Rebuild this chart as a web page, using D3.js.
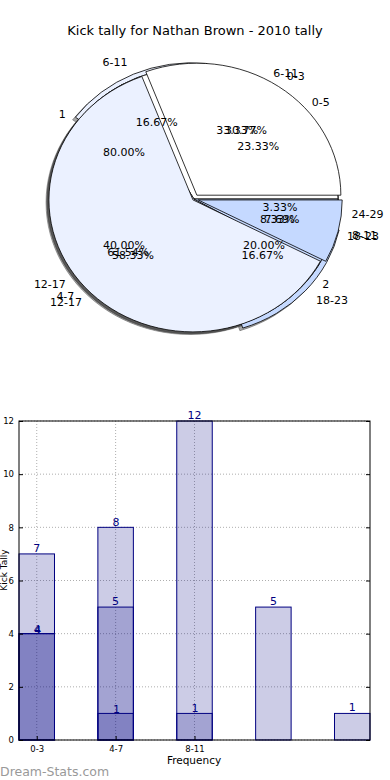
<!DOCTYPE html>
<html>
<head>
<meta charset="utf-8">
<script src="https://cdn.jsdelivr.net/npm/d3@7"></script>
<style>
body { margin: 0; background: #fff; }
text { font-family: "DejaVu Sans", sans-serif; }
</style>
</head>
<body>
<svg id="chart" width="390" height="780"></svg>
<script>
// four tallies, each drawn as its own pie over the previous one
var sixLabels = ["0-5", "6-11", "12-17", "18-23", "24-29"];
var sixValues = [7, 5, 12, 5, 1];
var kickLabels = ["1", "2"];
var kickValues = [4, 1];
var lateLabels = ["6-11", "12-17", "18-23"];
var lateValues = [4, 7, 1];
var fourLabels = ["0-3", "4-7", "8-11"];
var fourValues = [4, 8, 1];

// bar chart: three series over the same slots
var barTickLabels = ["0-3", "4-7", "8-11"];
var barSeriesA = [7, 5, 12, 5, 1];
var barSeriesB = [4, 8, 1];
var barSeriesC = [4, 1];
var yTicks = [0, 2, 4, 6, 8, 10, 12];

var pieColors = ["#ffffff", "#ebf1ff", "#c5d9ff", "#c5d9ff", "#ffffff"];

var Pies = [
	{labels: sixLabels, values: sixValues, explode: [0, 0.035, 0, 0.04, 0]},
	{labels: kickLabels, values: kickValues, explode: [0, 0]},
	{labels: lateLabels, values: lateValues, explode: [0, 0, 0]},
	{labels: fourLabels, values: fourValues, explode: [0.035, 0.01, 0.03]}
];

var svg = d3.select("#chart");

svg.append("text")
	.attr("x", 195).attr("y", 35)
	.attr("text-anchor", "middle")
	.style("font-size", "13px")
	.text("Kick tally for Nathan Brown - 2010 tally");

// ---------- pie part ----------
var cx = 194, cy = 199, rx = 144, ry = 132;
var k = ry / rx;

var pie = d3.pie().sort(null)
	.startAngle(Math.PI / 2)
	.endAngle(Math.PI / 2 - 2 * Math.PI);

var arc = d3.arc().innerRadius(0).outerRadius(rx);

Pies.forEach(function(p)
	{
		p.arcs = pie(p.values);
		p.arcs.forEach(function(a, i)
			{
				a.label = p.labels[i];
				a.ex = p.explode[i];
				a.mid = (a.startAngle + a.endAngle) / 2;
				a.color = pieColors[i % pieColors.length];
				a.pct = a.value / d3.sum(p.values) * 100;
			}
		);
	}
);

var pieG = svg.append("g")
	.attr("transform", "translate(" + cx + "," + cy + ") scale(1," + k + ")");

function offset(a)
{
	var r = a.ex * rx;
	return [Math.sin(a.mid) * r, -Math.cos(a.mid) * r];
}

// shadows sit below every wedge
var shadowG = pieG.append("g").attr("transform", "translate(" + (-0.02 * rx) + "," + (0.02 * rx) + ")");
Pies.forEach(function(p)
	{
		shadowG.selectAll(null)
			.data(p.arcs)
			.enter().append("path")
			.attr("d", arc)
			.attr("transform", function(d) { var o = offset(d); return "translate(" + o[0] + "," + o[1] + ")"; })
			.attr("fill", "#4d4d4d")
			.attr("fill-opacity", 0.5)
			.attr("stroke", "#4d4d4d")
			.attr("stroke-opacity", 0.5)
			.attr("vector-effect", "non-scaling-stroke");
	}
);

Pies.forEach(function(p)
	{
		pieG.selectAll(null)
			.data(p.arcs)
			.enter().append("path")
			.attr("d", arc)
			.attr("transform", function(d) { var o = offset(d); return "translate(" + o[0] + "," + o[1] + ")"; })
			.attr("fill", function(d) { return d.color; })
			.attr("stroke", "#000")
			.attr("stroke-width", 0.8)
			.attr("vector-effect", "non-scaling-stroke");
	}
);

Pies.forEach(function(p)
	{
		p.arcs.forEach(function(a)
			{
				var ox = Math.sin(a.mid), oy = -Math.cos(a.mid);
				var e = a.ex;
				var lx = cx + (e + 1.1) * rx * ox, ly = cy + (e + 1.1) * ry * oy;
				svg.append("text")
					.attr("x", lx).attr("y", ly)
					.attr("dy", "0.35em")
					.attr("text-anchor", lx > cx ? "start" : "end")
					.style("font-size", "11px")
					.text(a.label);
				svg.append("text")
					.attr("x", cx + (e + 0.6) * rx * ox).attr("y", cy + (e + 0.6) * ry * oy)
					.attr("dy", "0.35em")
					.attr("text-anchor", "middle")
					.style("font-size", "11px")
					.text(a.pct.toFixed(2) + "%");
			}
		);
	}
);

// ---------- bar part ----------
var x = d3.scaleLinear().domain([0, 4.45]).range([19, 370]);
var y = d3.scaleLinear().domain([0, 12]).range([740, 421]);
var barW = 0.45;

var grid = svg.append("g");
grid.selectAll(null).data(yTicks).enter().append("line")
	.attr("x1", x(0)).attr("x2", x(4.45))
	.attr("y1", function(d) { return y(d); }).attr("y2", function(d) { return y(d); })
	.attr("stroke", "#999").attr("stroke-width", 0.8).attr("stroke-dasharray", "1,2");
grid.selectAll(null).data(barTickLabels).enter().append("line")
	.attr("x1", function(d, i) { return x(i + barW / 2); }).attr("x2", function(d, i) { return x(i + barW / 2); })
	.attr("y1", y(0)).attr("y2", y(12))
	.attr("stroke", "#999").attr("stroke-width", 0.8).attr("stroke-dasharray", "1,2");

var barSeries = [barSeriesA, barSeriesB, barSeriesC];
barSeries.forEach(function(s)
	{
		svg.selectAll(null).data(s).enter().append("rect")
			.attr("x", function(d, i) { return x(i); })
			.attr("width", x(barW) - x(0))
			.attr("y", function(d) { return y(d); })
			.attr("height", function(d) { return y(0) - y(d); })
			.attr("fill", "#000080").attr("fill-opacity", 0.2)
			.attr("stroke", "#000080").attr("stroke-width", 1);
	}
);
barSeries.forEach(function(s, j)
	{
		svg.selectAll(null).data(s).enter().append("text")
			.attr("x", function(d, i) { return x(i + barW / 2) + j * 0.5; })
			.attr("y", function(d) { return y(d) - 2 + j; })
			.attr("text-anchor", "middle")
			.attr("fill", "#000080")
			.style("font-size", "11px")
			.text(function(d) { return d; });
	}
);

// frame
svg.append("rect")
	.attr("x", x(0)).attr("y", y(12))
	.attr("width", x(4.45) - x(0)).attr("height", y(0) - y(12))
	.attr("fill", "none").attr("stroke", "#000").attr("stroke-width", 1);

var yAxis = d3.axisLeft(y).tickValues(yTicks).tickSize(-4).tickPadding(5);
svg.append("g").attr("transform", "translate(" + x(0) + ",0)").call(yAxis)
	.call(function(g) { g.select(".domain").remove(); })
	.selectAll("text").style("font-size", "8.5px").attr("font-family", "DejaVu Sans");
var yAxisR = d3.axisRight(y).tickValues(yTicks).tickSize(-4).tickFormat("");
svg.append("g").attr("transform", "translate(" + x(4.45) + ",0)").call(yAxisR)
	.call(function(g) { g.select(".domain").remove(); });

var xAxis = d3.axisBottom(x).tickValues([0, 1, 2].map(function(i) { return i + barW / 2; }))
	.tickFormat(function(d, i) { return barTickLabels[i]; }).tickSize(-4).tickPadding(6);
svg.append("g").attr("transform", "translate(0," + y(0) + ")").call(xAxis)
	.call(function(g) { g.select(".domain").remove(); })
	.selectAll("text").style("font-size", "8.5px").attr("font-family", "DejaVu Sans");

svg.append("text")
	.attr("x", 194).attr("y", 764)
	.attr("text-anchor", "middle")
	.style("font-size", "10.5px")
	.text("Frequency");

svg.append("text")
	.attr("transform", "translate(4,570) rotate(-90)")
	.attr("text-anchor", "middle")
	.attr("dy", "0.35em")
	.style("font-size", "9px")
	.text("Kick Tally");

svg.append("text")
	.attr("x", 0).attr("y", 776)
	.attr("fill", "#999")
	.style("font-size", "12.5px")
	.text("Dream-Stats.com");
</script>
</body>
</html>
